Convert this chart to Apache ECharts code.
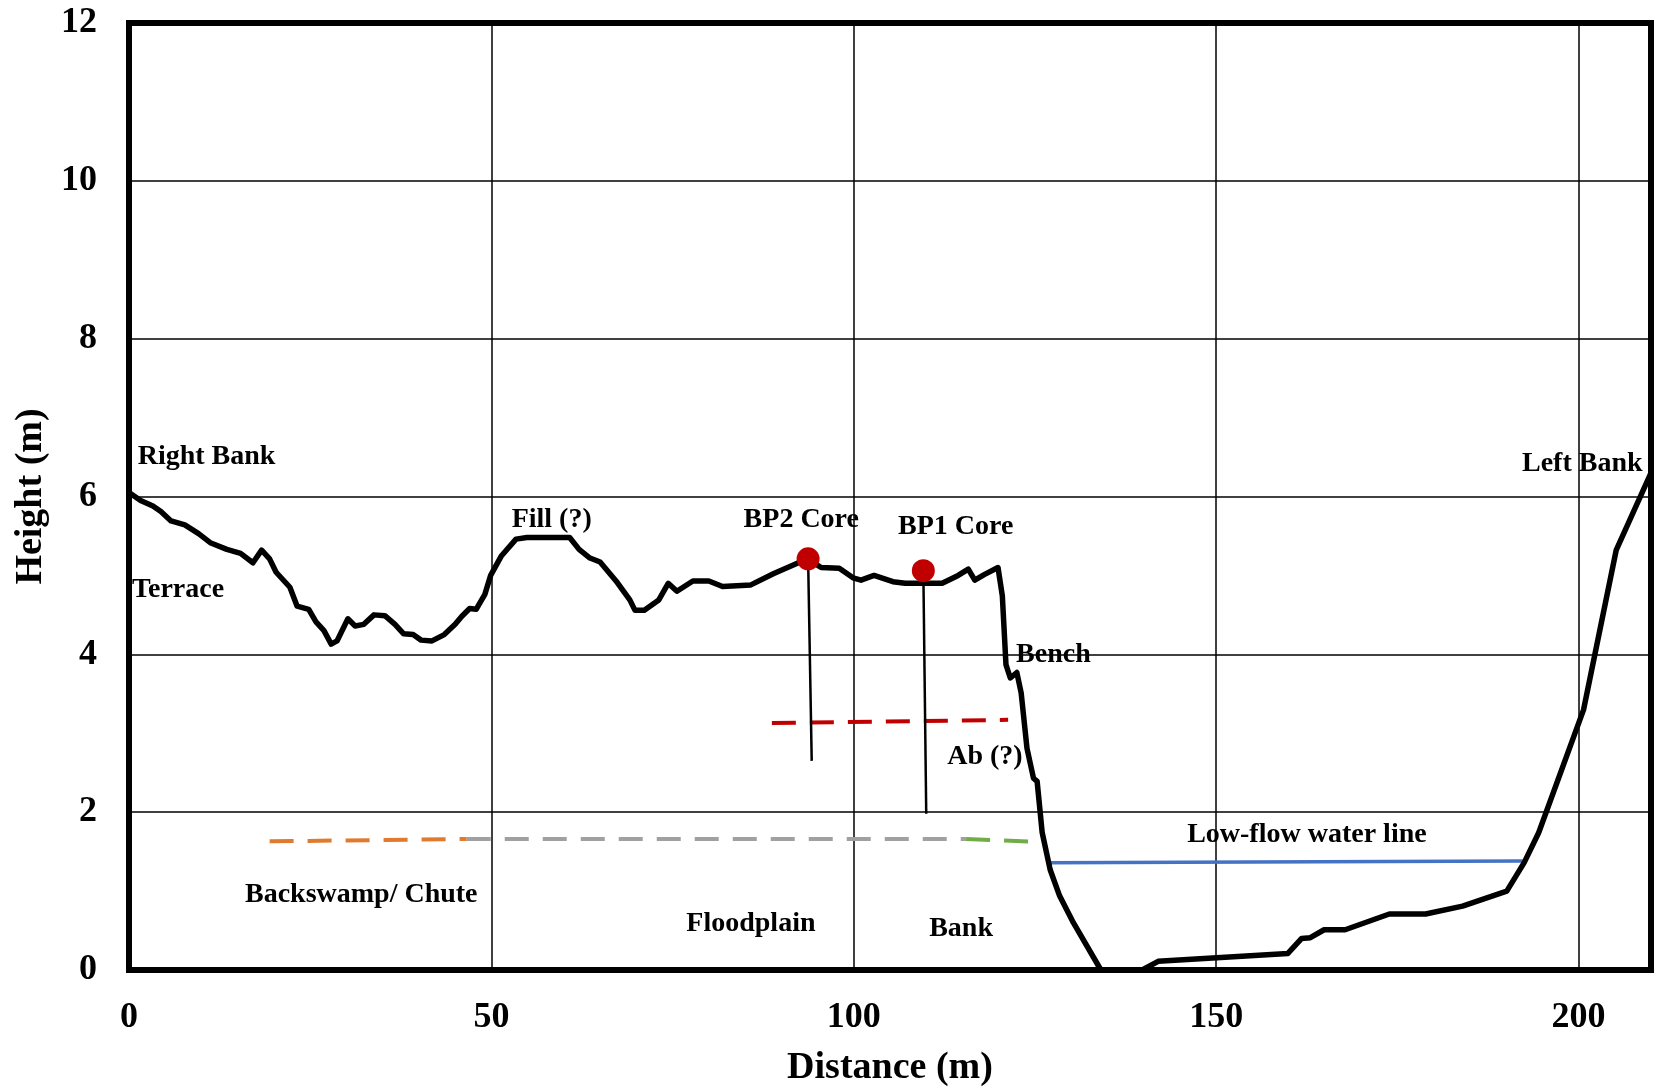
<!DOCTYPE html>
<html>
<head>
<meta charset="utf-8">
<script src="https://cdn.jsdelivr.net/npm/echarts@6/dist/echarts.min.js"></script>
<style>
html,body{margin:0;padding:0;background:#fff;}
#chart{width:1654px;height:1089px;}
</style>
</head>
<body>
<div id="chart"></div>
<script>
// Cross-section profile (distance m, height m)
const profile = [
  [0,6.05],[1.6,5.95],[3.3,5.88],[4.4,5.81],[5.8,5.69],[7.7,5.64],[9.6,5.53],[11.3,5.41],
  [13.5,5.33],[15.4,5.28],[17.1,5.16],[18.3,5.32],[19.4,5.21],[20.3,5.04],[22.2,4.85],
  [23.2,4.61],[24.8,4.57],[25.8,4.41],[26.9,4.30],[27.9,4.13],[28.7,4.17],[30.2,4.45],
  [31.2,4.36],[32.4,4.38],[33.8,4.50],[35.3,4.49],[36.7,4.38],[37.9,4.26],[39.2,4.25],
  [40.3,4.18],[41.8,4.17],[43.5,4.25],[45.0,4.38],[45.9,4.48],[47.0,4.58],[47.9,4.57],
  [49.1,4.76],[49.9,5.0],[51.4,5.25],[53.4,5.46],[54.9,5.48],[60.8,5.48],[62.1,5.33],
  [63.6,5.22],[65.0,5.17],[67.2,4.93],[69.1,4.69],[69.8,4.56],[71.1,4.56],[73.1,4.69],
  [74.4,4.90],[75.6,4.80],[77.8,4.93],[80.0,4.93],[81.9,4.86],[85.8,4.88],[88.9,5.02],
  [92.6,5.17],[93.6,5.21],[95.5,5.10],[98.0,5.09],[99.9,4.97],[101.0,4.94],[102.8,5.0],
  [105.4,4.92],[107.1,4.90],[110.0,4.90],[112.2,4.90],[114.4,5.00],[115.8,5.08],[116.7,4.94],
  [118.0,5.01],[119.9,5.10],[120.5,4.74],[121.0,3.87],[121.6,3.70],[122.5,3.77],[123.1,3.51],
  [123.9,2.81],[124.8,2.43],[125.3,2.39],[126.0,1.74],[127.1,1.27],[128.4,0.94],[130.3,0.60],
  [134.1,0.0],[139.8,0.0],[142.0,0.11],[159.9,0.21],[161.8,0.40],[163.0,0.41],[164.9,0.51],
  [167.8,0.51],[173.9,0.71],[178.9,0.71],[184.0,0.81],[190.1,1.0],[192.5,1.36],[194.5,1.74],
  [200.7,3.30],[205.2,5.32],[210,6.3]
];
// Core locations (top = surface dot, bottom = core depth)
const coreBP2 = [[93.7,5.21],[94.2,2.65]];
const coreBP1 = [[109.6,5.06],[110.0,1.98]];
const coreDots = [[93.7,5.21],[109.6,5.06]];
// Level lines
const abLine = [[88.7,3.13],[121.3,3.17]];
const backswampLine = [[19.4,1.63],[46.6,1.66]];
const floodplainLine = [[46.6,1.66],[115.5,1.66]];
const bankLine = [[115.5,1.66],[126.0,1.62]];
const waterLine = [[126.9,1.36],[192.3,1.38]];
// Annotations [x, y, text]
const annotations = [
  [1.2,6.5,'Right Bank'],[0.4,4.82,'Terrace'],[52.8,5.71,'Fill (?)'],
  [84.8,5.70,'BP2 Core'],[106.1,5.62,'BP1 Core'],[122.4,4.0,'Bench'],
  [112.9,2.70,'Ab (?)'],[146.0,1.71,'Low-flow water line'],[192.2,6.41,'Left Bank'],
  [16.0,0.95,'Backswamp/ Chute'],[76.9,0.58,'Floodplain'],[110.4,0.52,'Bank']
];
const xTicks = [0,50,100,150,200];
const yTicks = [0,2,4,6,8,10,12];

const FONT = '"Liberation Serif","Times New Roman",serif';
const chart = echarts.init(document.getElementById('chart'));
function dashed(data,color){
  return {type:'line',data:data,symbol:'none',silent:true,
    lineStyle:{color:color,width:4,type:[24,14]},z:3};
}
chart.setOption({
  animation:false,
  grid:{left:129,right:3,top:23,bottom:119,show:true,borderColor:'#000',borderWidth:6,backgroundColor:'#fff',
    containLabel:false,outerBoundsMode:'none'},
  xAxis:{type:'value',min:0,max:210,interval:50,
    name:'Distance (m)',nameLocation:'middle',nameGap:79,
    nameTextStyle:{fontFamily:FONT,fontWeight:'bold',fontSize:38,color:'#000'},
    axisLine:{show:false},axisTick:{show:false},
    axisLabel:{fontFamily:FONT,fontWeight:'bold',fontSize:36,color:'#000',margin:30,showMaxLabel:false,
      formatter:v=>xTicks.includes(v)?String(v):''},
    splitLine:{show:true,lineStyle:{color:'#000',width:1.5}}},
  yAxis:{type:'value',min:0,max:12,interval:2,
    name:'Height (m)',nameLocation:'middle',nameGap:78,
    nameTextStyle:{fontFamily:FONT,fontWeight:'bold',fontSize:38,color:'#000'},
    axisLine:{show:false},axisTick:{show:false},
    axisLabel:{fontFamily:FONT,fontWeight:'bold',fontSize:36,color:'#000',margin:32,
      formatter:v=>yTicks.includes(v)?String(v):''},
    splitLine:{show:true,lineStyle:{color:'#000',width:1.5}}},
  series:[
    dashed(backswampLine,'#E07A2E'),
    dashed(floodplainLine,'#A0A0A0'),
    dashed(bankLine,'#70AD47'),
    dashed(abLine,'#C00000'),
    {type:'line',data:waterLine,symbol:'none',lineStyle:{color:'#4472C4',width:3.5},z:3},
    {type:'line',data:coreBP2,symbol:'none',lineStyle:{color:'#000',width:2.5},z:4},
    {type:'line',data:coreBP1,symbol:'none',lineStyle:{color:'#000',width:2.5},z:4},
    {type:'line',data:profile,symbol:'none',lineStyle:{color:'#000',width:5.5,join:'round'},z:5},
    {type:'scatter',data:coreDots,symbol:'circle',symbolSize:23,itemStyle:{color:'#C00000',opacity:1},z:6},
    {type:'scatter',data:annotations.map(a=>({value:[a[0],a[1]],name:a[2]})),symbolSize:0,z:7,
      itemStyle:{opacity:1},
      label:{show:true,position:'right',distance:0,formatter:'{b}',opacity:1,
        fontFamily:FONT,fontWeight:'bold',fontSize:28,color:'#000'}}
  ]
});
</script>
</body>
</html>
